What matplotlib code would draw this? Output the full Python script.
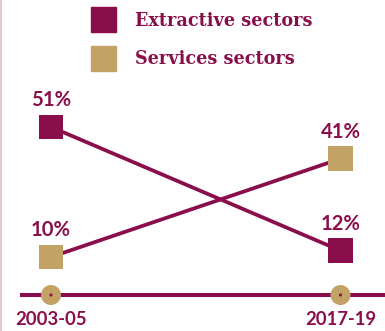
import matplotlib
matplotlib.use("Agg")
import matplotlib.pyplot as plt
from matplotlib.lines import Line2D

periods = ["2003-05", "2017-19"]
extractive = [51, 12]
services = [10, 41]
series_names = ["Extractive sectors", "Services sectors"]

MAROON = "#8A0E4B"
TAN = "#C2A265"
PINK = "#E6C3D7"

W, H = 385, 331
fig = plt.figure(figsize=(W / 100, H / 100), dpi=100)
ax = fig.add_axes([0, 0, 1, 1])
ax.set_axis_off()
renderer = fig.canvas.get_renderer()


def fit_size(txt, width_px, size=12.0):
    """Rescale a text's font size so its rendered width is width_px."""
    txt.set_fontsize(size)
    w = txt.get_window_extent(renderer).width
    txt.set_fontsize(size * width_px / w)
    return size * width_px / w


# scale: category 0 and 1 sit ~290px apart; ~3.17px per percentage point
ax.set_xlim(-51 / 289.5, (W - 51) / 289.5)
ax.set_ylim(-13.35, 91.06)

x = [0, 1]
# connecting lines (both drawn in maroon)
ax.plot(x, extractive, color=MAROON, lw=2.7, zorder=2, solid_capstyle="butt")
ax.plot(x, services, color=MAROON, lw=2.7, zorder=2, solid_capstyle="butt")

ax.scatter(x, extractive, marker="s", s=320, color=MAROON,
           edgecolors="none", zorder=3)
ax.scatter(x, services, marker="s", s=320, color=TAN,
           edgecolors="none", zorder=3)

SANS = ["Lato", "DejaVu Sans"]
probe = ax.text(0, 0, "51%", family=SANS, fontweight="bold")
pct_size = fit_size(probe, 40)
probe.remove()
for vals in (extractive, services):
    for xi, v in zip(x, vals):
        ax.text(xi, v + 6.6, f"{v}%", family=SANS, fontweight="bold",
                color=MAROON, fontsize=pct_size, ha="center", va="baseline")

# time axis with circular period markers
axis_y = -2
ax.axhline(axis_y, xmin=22 / W, xmax=1, color=MAROON, lw=2.9, zorder=1)
ax.scatter(x, [axis_y] * 2, s=207, color=TAN, edgecolors="none", zorder=3)
ax.scatter(x, [axis_y] * 2, s=5, color=MAROON, edgecolors="none", zorder=4)
probe = ax.text(0, 0, periods[0], family=SANS, fontweight="bold")
yr_size = fit_size(probe, 71)
probe.remove()
for xi, p in zip(x, periods):
    ax.text(xi, -11.5, p, family=SANS, fontweight="bold", color=MAROON,
            fontsize=yr_size, ha="center", va="baseline")

# legend
probe = fig.text(0, 0, series_names[0], family=["DejaVu Serif"], fontweight="bold")
leg_size = fit_size(probe, 177)
probe.remove()
leg_items = [(series_names[0], MAROON, 7, 26.5), (series_names[1], TAN, 46, 64.5)]
for name, col, top, base in leg_items:
    fig.add_artist(plt.Rectangle((91 / W, 1 - (top + 25) / H), 25 / W, 25 / H,
                                 transform=fig.transFigure, color=col))
    fig.text(135 / W, 1 - base / H, name, family=["DejaVu Serif"],
             fontweight="bold", color=MAROON, fontsize=leg_size,
             ha="left", va="baseline")

# thin rule along the left edge
fig.add_artist(Line2D([0.5 / W, 0.5 / W], [0, 1], color=PINK, lw=1.5,
                      transform=fig.transFigure))

fig.savefig("out.png", dpi=100)
